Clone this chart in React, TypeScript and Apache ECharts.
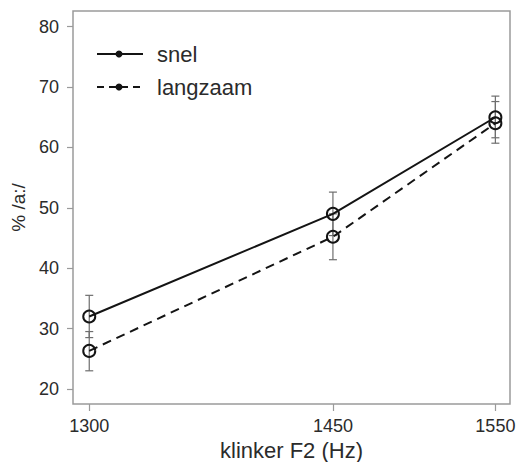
import React, { useEffect, useRef } from "react";
import * as echarts from "echarts";

const xValues = [1300, 1450, 1550];
const xTickLabels = [1300, 1450, 1550];
const yTicks = [20, 30, 40, 50, 60, 70, 80];
const snel = [32.0, 49.0, 65.0];
const snelLow = [28.5, 45.4, 61.6];
const snelHigh = [35.5, 52.6, 68.5];
const langzaam = [26.3, 45.2, 64.0];
const langzaamLow = [23.0, 41.4, 60.7];
const langzaamHigh = [29.5, 49.0, 67.6];
const seriesNames = ["snel", "langzaam"];

const FONT = "'Liberation Sans', Arial, Helvetica, sans-serif";
const AXIS_GRAY = "#9a9a9a";
const TEXT = "#2b2b2b";
const LINE = "#141414";

function errorSeries(low: number[], high: number[]) {
  return {
    type: "custom",
    silent: true,
    z: 1,
    data: xValues.map((x, i) => [x, low[i], high[i]]),
    renderItem: (params: any, api: any) => {
      const x = api.value(0);
      const lo = api.coord([x, api.value(1)]);
      const hi = api.coord([x, api.value(2)]);
      const cap = 4;
      const style = { stroke: "#6e6e6e", lineWidth: 1.2 };
      return {
        type: "group",
        children: [
          { type: "line", shape: { x1: lo[0], y1: lo[1], x2: hi[0], y2: hi[1] }, style },
          { type: "line", shape: { x1: lo[0] - cap, y1: lo[1], x2: lo[0] + cap, y2: lo[1] }, style },
          { type: "line", shape: { x1: hi[0] - cap, y1: hi[1], x2: hi[0] + cap, y2: hi[1] }, style },
        ],
      };
    },
  };
}

function lineSeries(name: string, vals: number[], dashed: boolean) {
  return {
    type: "line",
    name,
    z: 3,
    data: xValues.map((x, i) => [x, vals[i]]),
    symbol: "circle",
    symbolSize: 12,
    lineStyle: { color: LINE, width: 2, type: dashed ? [9, 6] : "solid" },
    itemStyle: { color: "rgba(0,0,0,0)", borderColor: LINE, borderWidth: 2 },
  };
}

export default function App() {
  const ref = useRef<HTMLDivElement>(null);
  useEffect(() => {
    if (!ref.current) return;
    const chart = echarts.init(ref.current, undefined, { renderer: "svg" });
    const legendY = [54, 87];
    const legendGraphics: any[] = [];
    seriesNames.forEach((n, i) => {
      legendGraphics.push({
        type: "line",
        shape: { x1: 97, y1: legendY[i], x2: 143, y2: legendY[i] },
        style: { stroke: LINE, lineWidth: 2, lineDash: i === 1 ? [7, 5] : null },
      });
      legendGraphics.push({
        type: "circle",
        shape: { cx: 119, cy: legendY[i], r: 3.5 },
        style: { fill: LINE },
      });
      legendGraphics.push({
        type: "text",
        x: 157,
        y: legendY[i],
        style: { text: n, fill: TEXT, font: `22px ${FONT}`, verticalAlign: "middle", align: "left" },
      });
    });
    chart.setOption({
      animation: false,
      backgroundColor: "#ffffff",
      textStyle: { fontFamily: FONT },
      grid: {
        left: 73,
        top: 11,
        right: 6,
        bottom: 58,
        outerBoundsMode: "none",
        containLabel: false,
        show: true,
        borderColor: AXIS_GRAY,
        borderWidth: 1.5,
        backgroundColor: "transparent",
      },
      xAxis: {
        type: "value",
        min: 1290,
        max: 1559,
        name: "klinker F2 (Hz)",
        nameLocation: "middle",
        nameGap: 33,
        nameTextStyle: { fontSize: 22, color: TEXT, fontFamily: FONT },
        axisLine: { show: false },
        splitLine: { show: false },
        axisTick: { show: true, length: 7, customValues: xTickLabels, lineStyle: { color: AXIS_GRAY, width: 1.2 } },
        axisLabel: {
          customValues: xTickLabels,
          formatter: (v: number) => String(v),
          fontSize: 18,
          color: TEXT,
          margin: 13,
          fontFamily: FONT,
        },
      },
      yAxis: {
        type: "value",
        min: 17.5,
        max: 82.6,
        name: "% /a:/",
        nameLocation: "middle",
        nameGap: 45,
        nameRotate: 90,
        nameTextStyle: { fontSize: 19, color: TEXT, fontFamily: FONT },
        axisLine: { show: false },
        splitLine: { show: false },
        axisTick: { show: true, length: 6, customValues: yTicks, lineStyle: { color: AXIS_GRAY, width: 1.2 } },
        axisLabel: {
          customValues: yTicks,
          formatter: (v: number) => String(v),
          fontSize: 18,
          color: TEXT,
          margin: 14,
          fontFamily: FONT,
        },
      },
      graphic: legendGraphics,
      series: [
        errorSeries(snelLow, snelHigh),
        errorSeries(langzaamLow, langzaamHigh),
        lineSeries(seriesNames[0], snel, false),
        lineSeries(seriesNames[1], langzaam, true),
      ],
    });
    return () => chart.dispose();
  }, []);
  return (
    <div
      ref={ref}
      style={{ position: "absolute", left: 0, top: 0, width: 516, height: 462 }}
    />
  );
}
